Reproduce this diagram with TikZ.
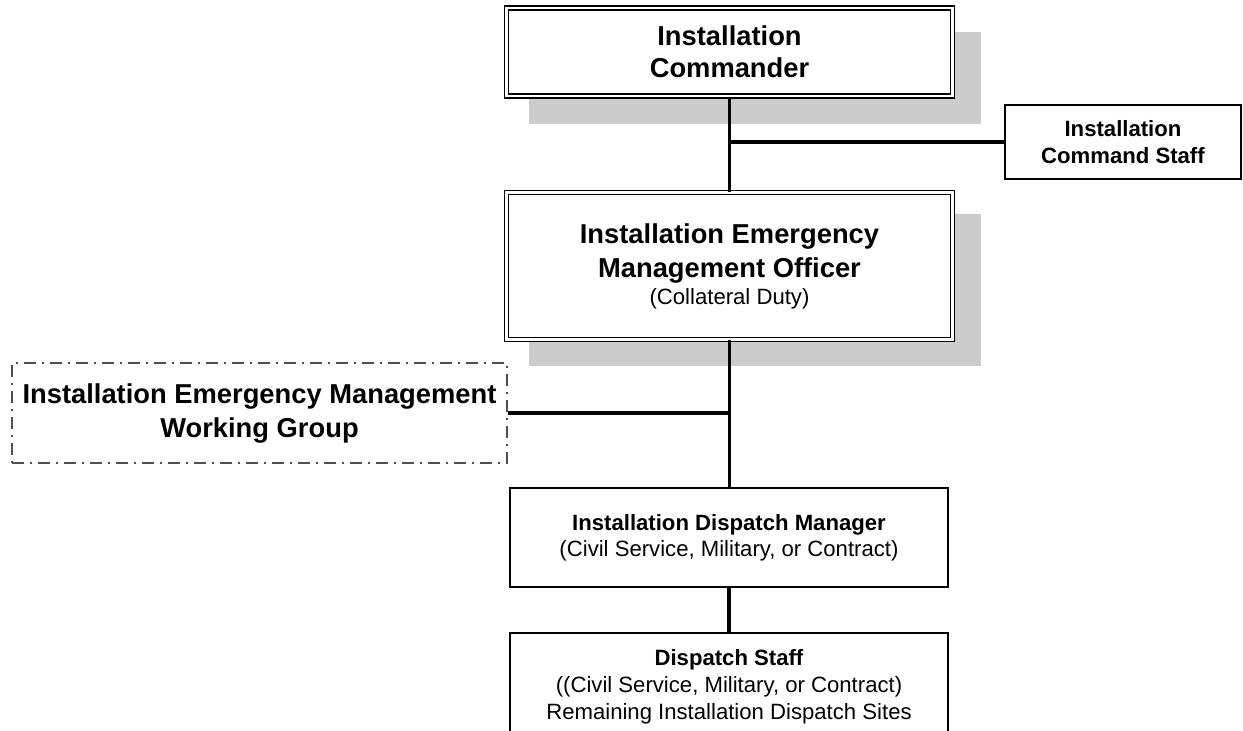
\documentclass[tikz,border=0pt]{standalone}
\usepackage{fontspec}
\setmainfont{Liberation Sans}
\definecolor{shadowc}{HTML}{CCCCCC}
\definecolor{dashc}{HTML}{505050}
\begin{document}
\begin{tikzpicture}[x=0.75pt,y=-0.75pt,
  dblbox/.style={draw, line width=1pt, double=white, double distance=1.8pt, fill=white, inner sep=0pt, align=center},
  onebox/.style={draw, line width=1.3pt, fill=white, inner sep=0pt, align=center},
  dashbox/.style={draw=dashc, line width=1.5pt, dash pattern=on 9pt off 4.5pt on 1.5pt off 4.5pt, inner sep=0pt, align=center},
  bigfont/.style={font=\fontsize{20.5}{#1}\selectfont\bfseries},
  smallfont/.style={font=\fontsize{16.6}{#1}\selectfont},
  conn/.style={line width=2.4pt}]
\useasboundingbox (0,0) rectangle (1243,731);
% shadows
\fill[shadowc] (529,32) rectangle (981,124);
\fill[shadowc] (529,214) rectangle (981,366);
% boxes
\node[dblbox, minimum width=334.5pt, minimum height=66pt, bigfont=24] (cmd) at (729.5,52) {Installation\\Commander};
\node[dblbox, minimum width=334.5pt, minimum height=110.25pt, bigfont=25.5] (iemo) at (729.5,266) {Installation Emergency\\Management Officer\\[-5.25pt]{\fontsize{16.6}{20}\selectfont\mdseries (Collateral Duty)}};
\node[onebox, minimum width=177pt, minimum height=55.5pt, smallfont=20] (cs) at (1123,142) {\textbf{Installation}\\\textbf{Command Staff}};
\node[dashbox, minimum width=371.25pt, minimum height=75pt, bigfont=25.5] (wg) at (259.5,413) {Installation Emergency Management\\Working Group};
\node[onebox, minimum width=328.5pt, minimum height=74.25pt, smallfont=19.5] (dm) at (729,537.5) {\textbf{Installation Dispatch Manager}\\(Civil Service, Military, or Contract)};
\node[onebox, minimum width=328.5pt, minimum height=80.25pt, smallfont=20.25] (ds) at (729,686.5) {\textbf{Dispatch Staff}\\((Civil Service, Military, or Contract)\\Remaining Installation Dispatch Sites};
% connectors
\coordinate (j1) at (cmd.south |- cs.west);
\coordinate (j2) at (iemo.south |- wg.east);
\coordinate (j3) at (iemo.south |- dm.north);
\draw[conn] (cmd.south) -- (iemo.north);
\draw[conn] (j1) -- (cs.west);
\draw[conn] (iemo.south) -- (j3);
\draw[conn] (wg.east) -- (j2);
\draw[conn] (dm.south) -- (ds.north);
\end{tikzpicture}
\end{document}
